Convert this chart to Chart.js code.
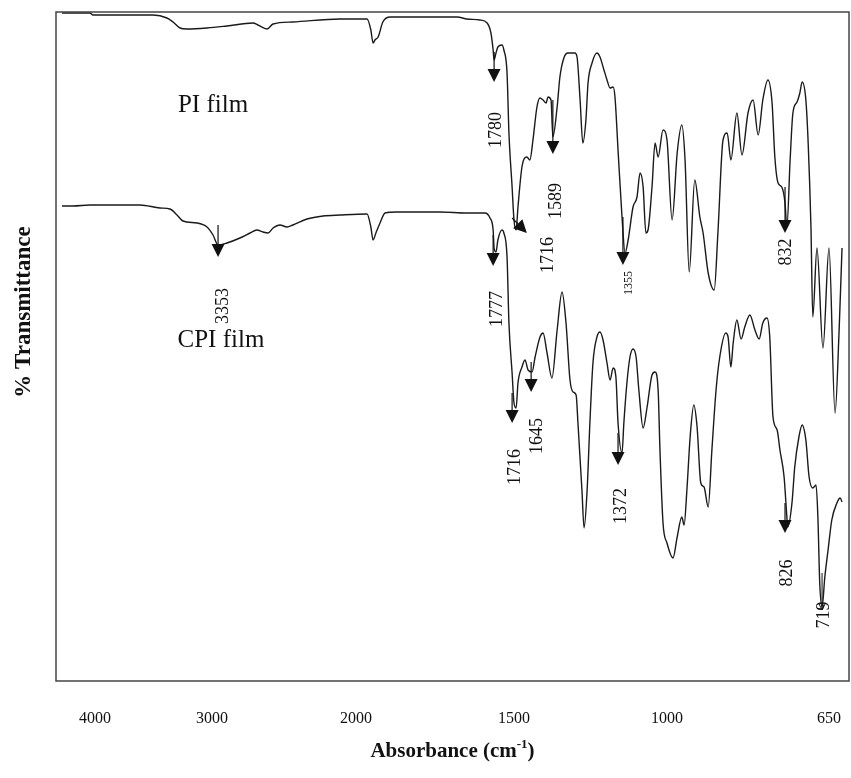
<!DOCTYPE html>
<html><head><meta charset="utf-8">
<script src="https://cdn.jsdelivr.net/npm/chart.js@4.4.1/dist/chart.umd.min.js"></script>
<style>html,body{margin:0;padding:0;background:#fff}canvas{display:block}</style>
</head><body>
<canvas id="c" width="851" height="778"></canvas>
<script>
// ---------- data ----------
const tickValues = [4000, 3000, 2000, 1500, 1000, 650];

const piWavenumber = [4282,4043,4017,3641,3504,3385,3333,3274,3214,3043,
  2896,2715,2681,2618,2576,2438,2111,1965,1953,1946,
  1940,1930,1915,1892,1680,1649,1608,1585,1573,1566,
  1563,1557,1551,1538,1532,1522,1516,1506,1500,1493,
  1487,1474,1458,1448,1438,1425,1415,1405,1395,1389,
  1379,1373,1359,1350,1337,1324,1301,1294,1284,1275,
  1265,1258,1245,1229,1219,1206,1196,1186,1176,1170,
  1160,1147,1137,1127,1111,1098,1088,1078,1069,1062,
  1049,1039,1029,1013,1000,989,978,968,961,952,
  940,929,922,911,898,890,879,870,862,849,
  838,825,814,803,793,782,773,767,760,752,
  745,741,734,728,719,713,708,700,695,689,
  685,676,663,650,637,628,622];
const piTransmittance = [66.8,66.8,66.6,66.6,66.6,66.3,65.9,65.3,65.2,65.3,
  65.5,65.8,65.6,65.2,65.7,65.9,66.2,66.2,65.1,63.8,
  64.1,64.4,65.9,66.4,66.4,66.2,66.1,65.8,64.8,63.1,
  62.1,62.8,63.4,63.6,63.1,60.8,54.8,49.4,46.1,45.1,
  47.4,51.4,52.4,52.1,54.1,57.4,58.3,58.1,57.8,58.4,
  58.1,54.4,57.4,60.4,62.3,62.8,62.8,62.4,58.1,53.8,
  56.1,59.8,61.8,62.8,62.4,61.1,60.1,59.3,59.4,58.4,
  53.1,46.4,42.8,44.1,47.4,48.4,50.8,49.4,44.8,45.1,
  49.4,53.8,52.4,55.1,54.1,46.1,52.8,55.6,52.1,40.9,
  50.1,46.4,44.8,40.8,39.1,44.8,54.1,54.8,52.1,56.8,
  52.6,56.8,58.1,54.6,58.1,60.1,57.8,52.4,49.8,49.4,
  47.8,45.4,52.1,56.8,57.9,58.8,59.9,58.1,53.8,45.4,
  36.4,43.3,33.3,43.3,26.8,35.4,43.3];

const cpiWavenumber = [4282,4188,4043,3897,3615,3444,3359,3299,3248,3128,
  3043,2993,2958,2896,2806,2736,2688,2646,2611,2576,
  2528,2479,2438,2340,2229,2111,1965,1953,1946,1937,
  1924,1908,1870,1734,1649,1630,1592,1576,1566,1563,
  1557,1551,1538,1532,1522,1516,1506,1500,1493,1487,
  1474,1464,1454,1441,1431,1415,1405,1392,1376,1359,
  1343,1330,1317,1307,1297,1291,1278,1271,1261,1252,
  1242,1229,1219,1209,1196,1186,1176,1167,1160,1147,
  1141,1131,1121,1111,1101,1092,1078,1065,1049,1039,
  1029,1023,1013,1000,987,978,968,963,957,950,
  942,935,927,920,911,903,894,886,873,868,
  862,857,849,840,832,821,810,801,793,784,
  778,771,762,756,747,741,739,730,724,715,
  708,700,693,685,678,674,670,665,659,652,
  644,633,626,622];
const cpiTransmittance = [47.5,47.5,47.6,47.6,47.6,47.3,47.2,46.6,46.0,45.8,
  45.4,44.6,43.6,43.8,44.3,44.8,45.1,44.9,44.8,45.3,
  45.6,45.4,45.6,46.2,46.5,46.6,46.7,45.4,44.1,44.8,
  45.8,46.8,46.9,46.9,46.8,46.8,46.8,46.3,45.1,43.3,
  42.9,44.1,45.1,44.8,42.4,35.8,30.8,27.8,27.3,29.8,
  31.4,32.1,31.1,30.9,32.4,34.4,34.8,32.8,30.3,35.1,
  38.9,35.8,30.1,28.9,28.6,25.8,19.1,15.3,19.1,25.8,
  31.8,34.4,34.9,34.1,31.8,30.1,31.3,30.4,25.8,22.8,
  25.8,29.8,32.4,33.2,32.4,29.1,25.3,27.4,30.6,30.9,
  29.1,23.1,15.8,13.8,12.3,14.4,16.4,15.6,19.1,24.4,
  27.6,25.4,19.8,19.4,17.4,23.1,29.1,32.4,34.8,34.4,
  31.4,33.8,36.1,34.2,35.4,36.6,35.1,34.2,35.8,36.3,
  34.4,26.4,25.1,23.1,20.4,16.4,15.4,17.8,21.4,24.4,
  25.6,24.1,20.4,19.3,19.6,16.4,9.8,7.4,10.4,13.1,
  16.1,17.8,18.3,17.9];

const seriesNames = ['PI film', 'CPI film'];
const seriesNameX = [2993, 2938];
const seriesNameY = [56.9, 33.4];

const peakLabels = ['1780','1716','1589','1355','832','3353','1777','1716','1645','1372','826','719'];
const peakFromX = [1563,1506,1373,1144,745, 2958,1566,1506,1444,1160,745,665];
const peakFromY = [62.9,46.3,58.1,46.4,49.4, 45.6,44.6,28.8,31.9,24.8,17.8,10.8];
const peakToX   = [1563,1458,1373,1144,745, 2958,1566,1506,1444,1160,745,665];
const peakToY   = [59.9,44.8,52.7,41.6,44.8, 42.4,41.5,25.8,28.9,21.6,14.8,7.1];
const peakTextX = [1557,1389,1363,1124,743, 2924,1554,1497,1425,1150,741,661];
const peakTextY = [55.1,42.6,48.0,39.8,42.9, 37.5,37.2,21.4,24.5,17.5,10.8,6.6];

const xTitle = 'Absorbance (cm';
const xTitleSup = '-1';
const yTitle = '% Transmittance';

// ---------- piecewise wavenumber axis (instrument scale change) ----------
const AXIS_WN = [4333, 4000, 3000, 2000, 1500, 1000, 650, 607];
const AXIS_FR = [0, 0.04918, 0.19672, 0.37831, 0.57755, 0.77049, 0.97478, 1];
function wnToFrac(v) {
  const n = AXIS_WN.length;
  for (let i = 0; i < n - 1; i++) {
    if (v >= AXIS_WN[i + 1] || i === n - 2) {
      const t = (AXIS_WN[i] - v) / (AXIS_WN[i] - AXIS_WN[i + 1]);
      return AXIS_FR[i] + t * (AXIS_FR[i + 1] - AXIS_FR[i]);
    }
  }
}
function fracToWn(f) {
  const n = AXIS_FR.length;
  for (let i = 0; i < n - 1; i++) {
    if (f <= AXIS_FR[i + 1] || i === n - 2) {
      const t = (f - AXIS_FR[i]) / (AXIS_FR[i + 1] - AXIS_FR[i]);
      return AXIS_WN[i] + t * (AXIS_WN[i + 1] - AXIS_WN[i]);
    }
  }
}
class FtirScale extends Chart.LinearScale {
  static id = 'ftir';
  getPixelForValue(value) {
    if (value === null || value === undefined || isNaN(value)) return NaN;
    return this.getPixelForDecimal(wnToFrac(value));
  }
  getValueForPixel(pixel) {
    return fracToWn(this.getDecimalForPixel(pixel));
  }
}
Chart.register(FtirScale);

// ---------- drawing helpers ----------
function drawArrow(ctx, x1, y1, x2, y2, thin) {
  const ang = Math.atan2(y2 - y1, x2 - x1);
  const ux = Math.cos(ang), uy = Math.sin(ang);
  const px = -uy, py = ux;
  if (thin) {
    ctx.lineWidth = 1;
    ctx.beginPath(); ctx.moveTo(x1, y1); ctx.lineTo(x2, y2); ctx.stroke();
    const L = 7, W = 3.5;
    ctx.beginPath();
    ctx.moveTo(x2 - L * ux + W * px, y2 - L * uy + W * py);
    ctx.lineTo(x2, y2);
    ctx.lineTo(x2 - L * ux - W * px, y2 - L * uy - W * py);
    ctx.stroke();
    return;
  }
  const L = 13, W = 6.5;
  ctx.lineWidth = 1.2;
  ctx.beginPath(); ctx.moveTo(x1, y1); ctx.lineTo(x2 - L * ux, y2 - L * uy); ctx.stroke();
  ctx.beginPath();
  ctx.moveTo(x2, y2);
  ctx.lineTo(x2 - L * ux + W * px, y2 - L * uy + W * py);
  ctx.lineTo(x2 - L * ux - W * px, y2 - L * uy - W * py);
  ctx.closePath(); ctx.fill();
}

const overlay = {
  id: 'overlay',
  afterDatasetsDraw(chart) {
    const {ctx, chartArea: a} = chart;
    const xs = chart.scales.x, ys = chart.scales.y;
    ctx.save();
    ctx.strokeStyle = '#444'; ctx.lineWidth = 1.5;
    ctx.strokeRect(a.left, a.top, a.right - a.left, a.bottom - a.top);

    ctx.fillStyle = '#111'; ctx.strokeStyle = '#111';
    for (let i = 0; i < peakLabels.length; i++) {
      const x1 = xs.getPixelForValue(peakFromX[i]), y1 = ys.getPixelForValue(peakFromY[i]);
      const x2 = xs.getPixelForValue(peakToX[i]), y2 = ys.getPixelForValue(peakToY[i]);
      drawArrow(ctx, x1, y1, x2, y2, peakLabels[i] === '719');
      const tx = xs.getPixelForValue(peakTextX[i]), ty = ys.getPixelForValue(peakTextY[i]);
      ctx.save();
      ctx.translate(tx, ty); ctx.rotate(-Math.PI / 2);
      ctx.font = (peakLabels[i] === '1355' ? '12px' : '18px') + ' "Liberation Serif", "Times New Roman", serif';
      ctx.textAlign = 'center'; ctx.textBaseline = 'middle';
      ctx.fillText(peakLabels[i], 0, 0);
      ctx.restore();
    }
    ctx.font = '25px "Liberation Serif", "Times New Roman", serif';
    ctx.textAlign = 'center'; ctx.textBaseline = 'alphabetic';
    for (let i = 0; i < seriesNames.length; i++) {
      ctx.fillText(seriesNames[i], xs.getPixelForValue(seriesNameX[i]), ys.getPixelForValue(seriesNameY[i]));
    }
    ctx.restore();
  },
  afterDraw(chart) {
    const {ctx, chartArea: a} = chart;
    ctx.save();
    ctx.fillStyle = '#111';
    const big = 'bold 21px "Liberation Serif", "Times New Roman", serif';
    const small = 'bold 13px "Liberation Serif", "Times New Roman", serif';
    ctx.font = big; const w1 = ctx.measureText(xTitle).width; const w3 = ctx.measureText(')').width;
    ctx.font = small; const w2 = ctx.measureText(xTitleSup).width;
    const total = w1 + w2 + w3;
    let x0 = (a.left + a.right) / 2 - total / 2;
    const base = 757;
    ctx.textAlign = 'left'; ctx.textBaseline = 'alphabetic';
    ctx.font = big; ctx.fillText(xTitle, x0, base);
    ctx.font = small; ctx.fillText(xTitleSup, x0 + w1, base - 9);
    ctx.font = big; ctx.fillText(')', x0 + w1 + w2, base);
    ctx.translate(24, 312); ctx.rotate(-Math.PI / 2);
    ctx.font = 'bold 23px "Liberation Serif", "Times New Roman", serif';
    ctx.textAlign = 'center'; ctx.textBaseline = 'middle';
    ctx.fillText(yTitle, 0, 0);
    ctx.restore();
  }
};

const toPoints = (xsArr, ysArr) => xsArr.map((w, i) => ({x: w, y: ysArr[i]}));

new Chart(document.getElementById('c'), {
  type: 'line',
  data: {
    datasets: [
      {label: seriesNames[0], data: toPoints(piWavenumber, piTransmittance)},
      {label: seriesNames[1], data: toPoints(cpiWavenumber, cpiTransmittance)}
    ]
  },
  options: {
    responsive: false,
    animation: false,
    layout: {padding: {left: 56, right: 2, top: 12, bottom: 0}},
    elements: {
      line: {borderColor: '#1a1a1a', borderWidth: 1.4, cubicInterpolationMode: 'monotone', fill: false},
      point: {radius: 0, hoverRadius: 0}
    },
    plugins: {legend: {display: false}, tooltip: {enabled: false}},
    scales: {
      x: {
        type: 'ftir', min: 607, max: 4333,
        grid: {display: false, drawTicks: false},
        border: {display: false},
        afterBuildTicks: (s) => { s.ticks = tickValues.map(v => ({value: v})); },
        afterFit: (s) => { s.height = 97; s.paddingLeft = 0; s.paddingRight = 0; },
        ticks: {
          autoSkip: false, maxRotation: 0, padding: 28, color: '#111',
          font: {family: '"Liberation Serif", "Times New Roman", serif', size: 16},
          callback: (v) => String(v)
        }
      },
      y: {type: 'linear', min: 0, max: 66.9, display: false}
    }
  },
  plugins: [overlay]
});
</script>
</body></html>
